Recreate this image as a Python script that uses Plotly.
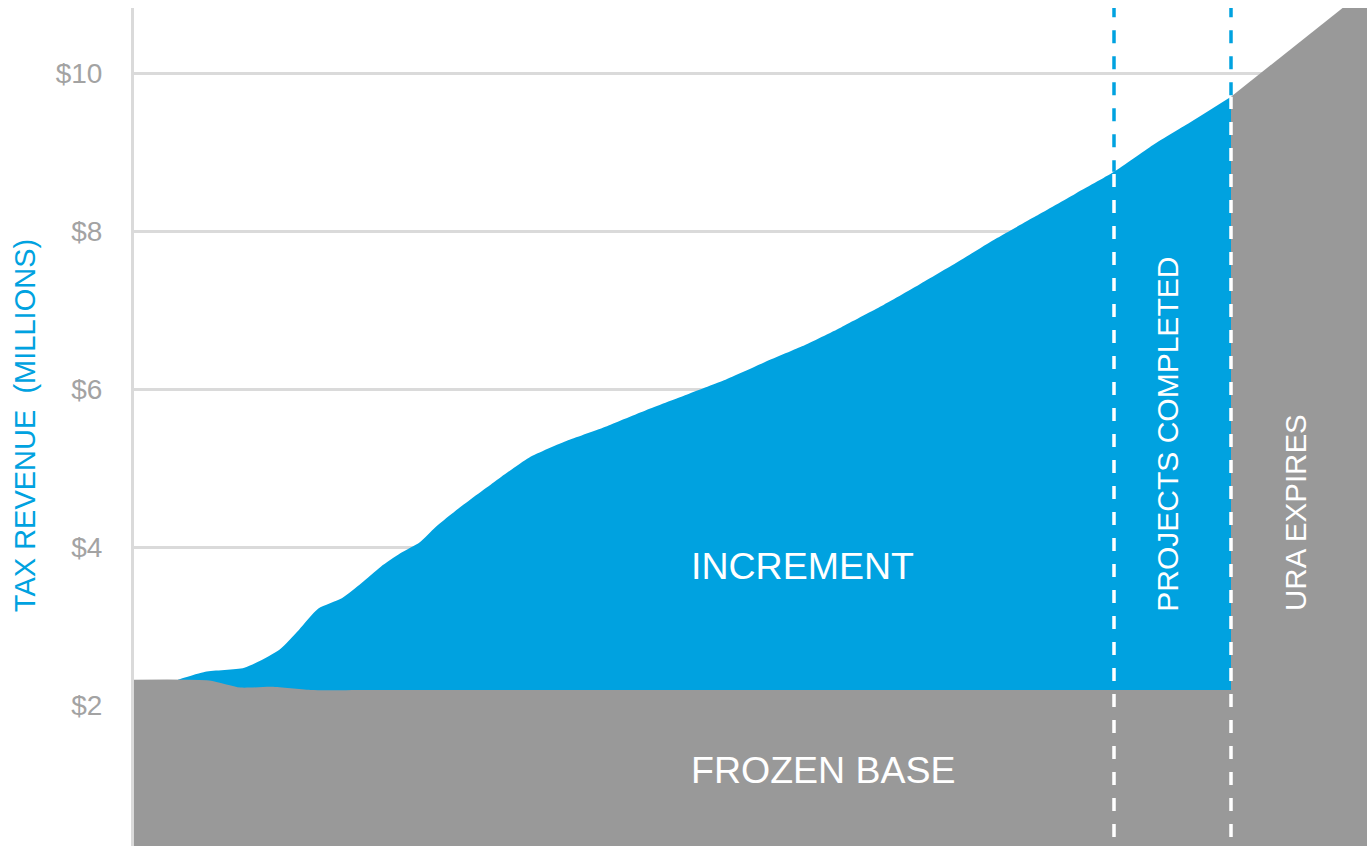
import plotly.graph_objects as go

# ---- data (tax revenue, $ millions, by year after URA creation) ----
increment_years = [0, 0.7, 1.7, 2.6, 3.1, 3.6, 4.2, 4.7, 5.2, 5.7, 6.2, 6.6, 7.2, 8.1,
                   9, 10, 11, 12, 13, 14, 15, 16, 17, 18, 19, 20, 21, 22, 23, 24, 25, 26, 27]
increment_values = [2.32, 2.42, 2.47, 2.70, 2.95, 3.22, 3.35, 3.54, 3.75, 3.92, 4.06, 4.25,
                    4.49, 4.82, 5.13, 5.35, 5.53, 5.73, 5.92, 6.11, 6.33, 6.54, 6.78, 7.04,
                    7.32, 7.61, 7.91, 8.19, 8.47, 8.75, 9.09, 9.39, 9.70]

base_years = [-1.13, 0.8, 1.6, 2.4, 3.4, 5, 10, 15, 20, 27]
base_values = [2.32, 2.31, 2.22, 2.23, 2.19, 2.19, 2.19, 2.19, 2.19, 2.19]

post_years = [27, 28, 29, 30, 31]
post_values = [9.70, 10.09, 10.48, 10.88, 11.27]

projects_completed_year = 24
ura_expires_year = 27

tick_vals = [2, 4, 6, 8, 10]
tick_text = ["$2", "$4", "$6", "$8", "$10"]

BLUE = "#00a2e0"
GRAY = "#999999"
GRID = "#dadada"
FONT = "Liberation Sans, Arial, sans-serif"

fig = go.Figure()

# increment (blue) area
fig.add_trace(go.Scatter(
    x=increment_years, y=increment_values, mode="lines",
    line=dict(color=BLUE, width=0, shape="spline", smoothing=0.6),
    fill="tozeroy", fillcolor=BLUE, hoverinfo="skip", showlegend=False))

# frozen base (gray)
fig.add_trace(go.Scatter(
    x=base_years, y=base_values, mode="lines",
    line=dict(color=GRAY, width=0, shape="spline", smoothing=0.6),
    fill="tozeroy", fillcolor=GRAY, hoverinfo="skip", showlegend=False))

# after URA expiry (gray)
fig.add_trace(go.Scatter(
    x=post_years, y=post_values, mode="lines",
    line=dict(color=GRAY, width=0),
    fill="tozeroy", fillcolor=GRAY, hoverinfo="skip", showlegend=False))

# dashed markers
pc_val = increment_values[increment_years.index(projects_completed_year)]
ue_val = increment_values[increment_years.index(ura_expires_year)]
for yr, v in [(projects_completed_year, pc_val), (ura_expires_year, ue_val)]:
    fig.add_trace(go.Scatter(
        x=[yr, yr], y=[0, v], mode="lines",
        line=dict(color="white", width=3.5, dash="13px,13px"),
        hoverinfo="skip", showlegend=False))
    fig.add_trace(go.Scatter(
        x=[yr, yr], y=[11.2, v], mode="lines",
        line=dict(color=BLUE, width=3.5, dash="13px,13px"),
        hoverinfo="skip", showlegend=False))

# labels
fig.add_annotation(x=16.0, y=3.76, text="INCREMENT", showarrow=False,
                   font=dict(family=FONT, size=37.5, color="white"))
fig.add_annotation(x=16.56, y=1.18, text="FROZEN BASE", showarrow=False,
                   font=dict(family=FONT, size=37.5, color="white"))
fig.add_annotation(x=25.38, y=3.16, yanchor="bottom", text="PROJECTS COMPLETED",
                   showarrow=False, textangle=-90,
                   font=dict(family=FONT, size=30, color="white"))
fig.add_annotation(x=28.67, y=3.16, yanchor="bottom", text="URA EXPIRES",
                   showarrow=False, textangle=-90,
                   font=dict(family=FONT, size=29.5, color="white"))
fig.add_annotation(xref="paper", yref="paper", x=(25 - 134) / 1233, y=0.501,
                   xanchor="center", yanchor="middle",
                   text="TAX REVENUE \u00a0(MILLIONS)", showarrow=False, textangle=-90,
                   font=dict(family=FONT, size=29, color=BLUE))

fig.update_layout(
    width=1367, height=846,
    margin=dict(l=134, r=0, t=8, b=0),
    paper_bgcolor="white", plot_bgcolor="white",
    xaxis=dict(range=[-44 / 39, 1189 / 39], showgrid=False, zeroline=False,
               showticklabels=False, showline=False, fixedrange=True),
    yaxis=dict(range=[0.215, 10.823], tickvals=tick_vals, ticktext=tick_text,
               showgrid=True, gridcolor=GRID, gridwidth=3, zeroline=False,
               showline=True, linecolor=GRID, linewidth=3,
               ticks="", ticklabelstandoff=23,
               tickfont=dict(family=FONT, size=28, color="#a3a3a3"),
               fixedrange=True),
    font=dict(family=FONT),
)

fig.write_html("out.html", config={"displayModeBar": False},
               post_script="document.body.style.margin='0';document.body.style.overflow='hidden';")
